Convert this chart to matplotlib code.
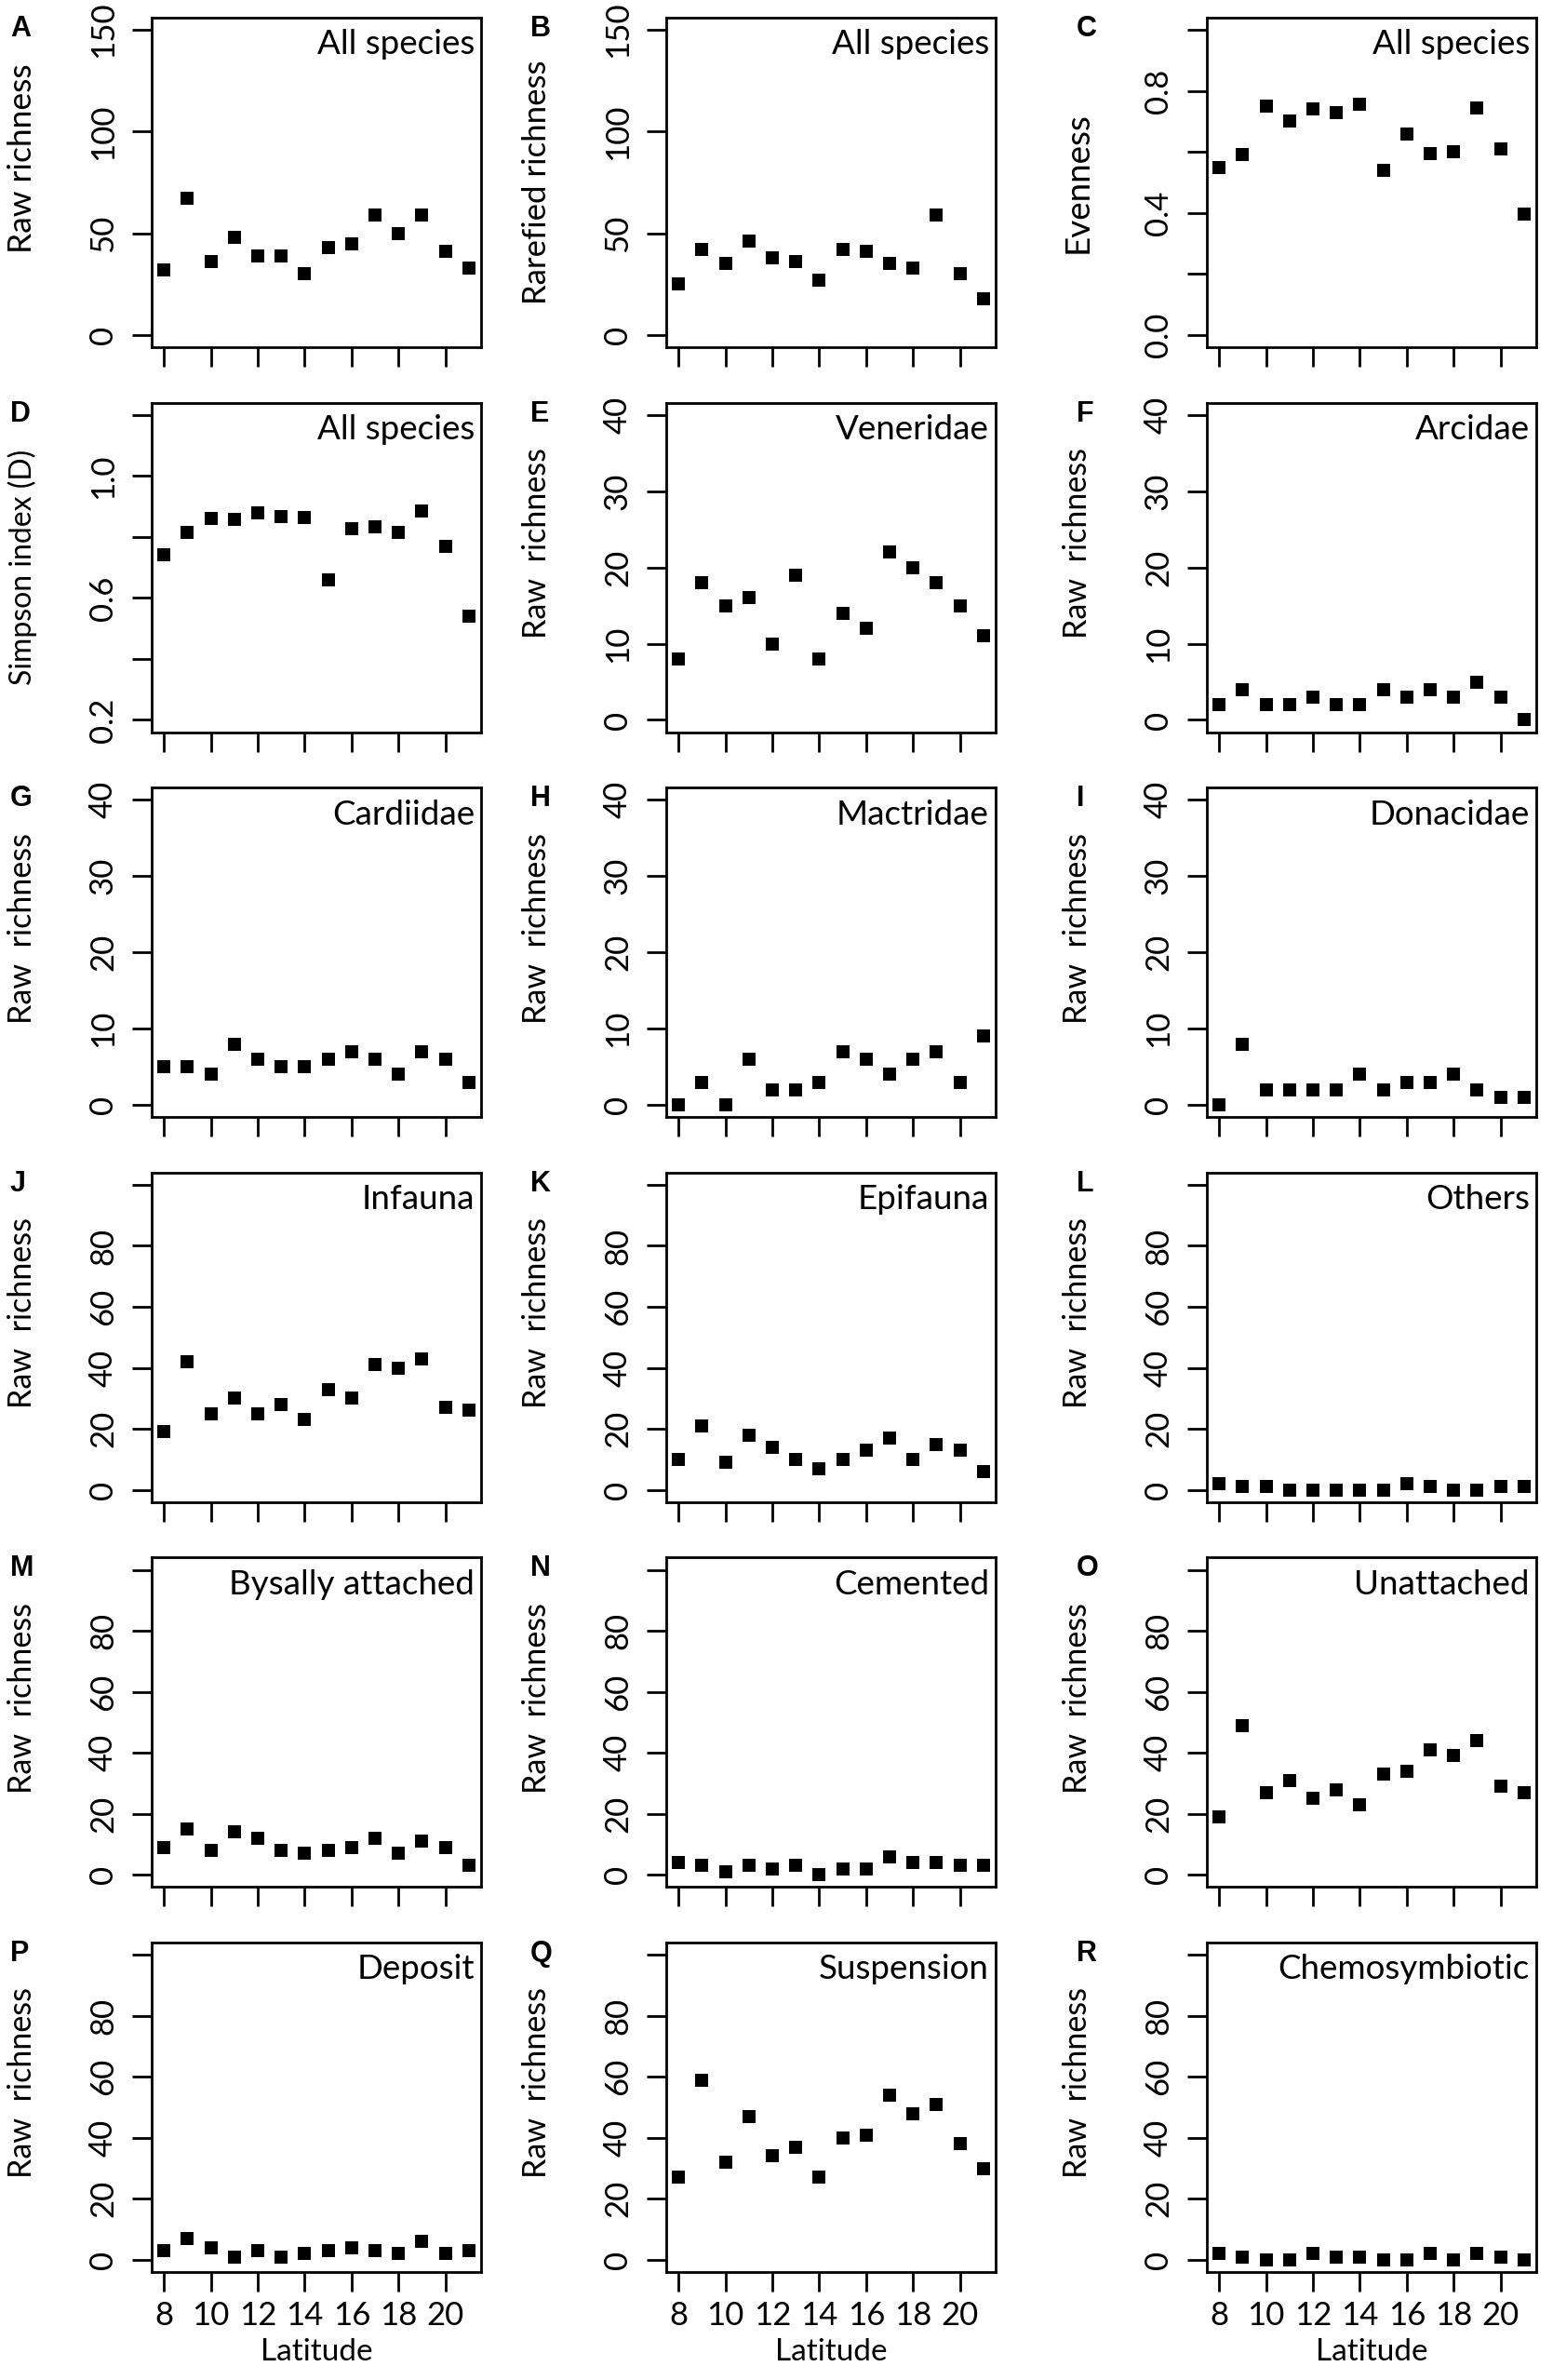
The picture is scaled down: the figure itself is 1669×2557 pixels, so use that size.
import matplotlib
matplotlib.use("Agg")
import matplotlib.pyplot as plt

# latitudes (degrees)
latitude = [8, 9, 10, 11, 12, 13, 14, 15, 16, 17, 18, 19, 20, 21]

raw_all = [32, 67, 36, 48, 39, 39, 30, 43, 45, 59, 50, 59, 41, 33]
rarefied_all = [25, 42, 35, 46, 38, 36, 27, 42, 41, 35, 33, 59, 30, 18]
evenness_all = [0.55, 0.59, 0.75, 0.70, 0.74, 0.73, 0.755, 0.54, 0.66, 0.595, 0.60, 0.745, 0.61, 0.395]
simpson_all = [0.74, 0.815, 0.862, 0.856, 0.878, 0.868, 0.864, 0.66, 0.826, 0.832, 0.816, 0.884, 0.768, 0.54]
veneridae = [8, 18, 15, 16, 10, 19, 8, 14, 12, 22, 20, 18, 15, 11]
arcidae = [2, 4, 2, 2, 3, 2, 2, 4, 3, 4, 3, 5, 3, 0]
cardiidae = [5, 5, 4, 8, 6, 5, 5, 6, 7, 6, 4, 7, 6, 3]
mactridae = [0, 3, 0, 6, 2, 2, 3, 7, 6, 4, 6, 7, 3, 9]
donacidae = [0, 8, 2, 2, 2, 2, 4, 2, 3, 3, 4, 2, 1, 1]
infauna = [19, 42, 25, 30, 25, 28, 23, 33, 30, 41, 40, 43, 27, 26]
epifauna = [10, 21, 9, 18, 14, 10, 7, 10, 13, 17, 10, 15, 13, 6]
others = [2, 1, 1, 0, 0, 0, 0, 0, 2, 1, 0, 0, 1, 1]
bysally = [9, 15, 8, 14, 12, 8, 7, 8, 9, 12, 7, 11, 9, 3]
cemented = [4, 3, 1, 3, 2, 3, 0, 2, 2, 6, 4, 4, 3, 3]
unattached = [19, 49, 27, 31, 25, 28, 23, 33, 34, 41, 39, 44, 29, 27]
deposit = [3, 7, 4, 1, 3, 1, 2, 3, 4, 3, 2, 6, 2, 3]
suspension = [27, 59, 32, 47, 34, 37, 27, 40, 41, 54, 48, 51, 38, 30]
chemosymbiotic = [2, 1, 0, 0, 2, 1, 1, 0, 0, 2, 0, 2, 1, 0]

letters = list("ABCDEFGHIJKLMNOPQR")
titles = ["All species", "All species", "All species", "All species", "Veneridae", "Arcidae",
          "Cardiidae", "Mactridae", "Donacidae", "Infauna", "Epifauna", "Others",
          "Bysally attached", "Cemented", "Unattached", "Deposit", "Suspension", "Chemosymbiotic"]
ylabels = ["Raw richness", "Rarefied richness", "Evenness", "Simpson index (D)"] + ["Raw  richness"] * 14
series = [raw_all, rarefied_all, evenness_all, simpson_all, veneridae, arcidae,
          cardiidae, mactridae, donacidae, infauna, epifauna, others,
          bysally, cemented, unattached, deposit, suspension, chemosymbiotic]

x_ticks = [8, 10, 12, 14, 16, 18, 20]

# y axis settings: (ylim, ticks, labels)
EJE_150 = ((0, 150), [0, 50, 100, 150], ["0", "50", "100", "150"])
EJE_EVEN = ((0, 1), [0, 0.2, 0.4, 0.6, 0.8, 1.0], ["0.0", "", "0.4", "", "0.8", ""])
EJE_SIMP = ((0.2, 1.2), [0.2, 0.4, 0.6, 0.8, 1.0, 1.2], ["0.2", "", "0.6", "", "1.0", ""])
EJE_40 = ((0, 40), [0, 10, 20, 30, 40], ["0", "10", "20", "30", "40"])
EJE_100 = ((0, 100), [0, 20, 40, 60, 80, 100], ["0", "20", "40", "60", "80", ""])
ejes = [EJE_150, EJE_150, EJE_EVEN, EJE_SIMP] + [EJE_40] * 5 + [EJE_100] * 9

# tamaño de la etiqueta del eje y por panel (el original no es uniforme)
TAM_YLAB = [25.5, 25, 26.5, 23] + [24.5] * 14

FUENTE = "Lato"
W, H = 1669, 2557
COL_LEFT = [163, 716, 1297]
LETRA_DX = [152, 146, 140]
ROW_TOP0 = 19
ROW_PITCH = 413.6
BOX = 354


def extender(lo, hi):
    d = (hi - lo) * 0.04
    return lo - d, hi + d


fig = plt.figure(figsize=(W / 100, H / 100), dpi=100)

for i in range(18):
    fila, col = divmod(i, 3)
    left = COL_LEFT[col]
    top = ROW_TOP0 + ROW_PITCH * fila
    ax = fig.add_axes([left / W, 1 - (top + BOX) / H, BOX / W, BOX / H])

    ax.plot(latitude, series[i], "s", color="black", markersize=10.3, markeredgewidth=0)

    ax.set_xlim(*extender(8, 21))
    ylim, yt, ytl = ejes[i]
    ax.set_ylim(*extender(*ylim))
    ax.set_yticks(yt)
    ax.set_yticklabels(ytl, rotation=90, va="center", fontsize=25, family=FUENTE)
    ax.set_xticks(x_ticks)
    if fila == 5:
        ax.set_xticklabels([str(t) for t in x_ticks], fontsize=25, family=FUENTE)
        ax.set_xlabel("Latitude", fontsize=24, family=FUENTE, labelpad=6)
    else:
        ax.set_xticklabels([])

    ax.tick_params(direction="out", length=15, width=2, color="black")
    ax.tick_params(axis="x", pad=7)
    ax.tick_params(axis="y", pad=11)
    for s in ax.spines.values():
        s.set_linewidth(2)

    # las etiquetas "Raw richness" del original quedan algo por encima del centro
    ax.set_ylabel(ylabels[i], fontsize=TAM_YLAB[i], family=FUENTE)
    ax.yaxis.label.set_verticalalignment("center")
    y_lab = 0.5 + 26 / BOX if ylabels[i].startswith("Raw") else 0.5
    ax.yaxis.set_label_coords(-139 / BOX, y_lab)

    ax.text(0.98, 0.965, titles[i], transform=ax.transAxes, ha="right", va="top",
            fontsize=26.5, family=FUENTE)
    fig.text((left - LETRA_DX[col]) / W, 1 - (top - 3) / H, letters[i], ha="left", va="top",
             fontsize=22, fontweight="bold", family="Liberation Sans")

fig.savefig("out.png", dpi=100)
